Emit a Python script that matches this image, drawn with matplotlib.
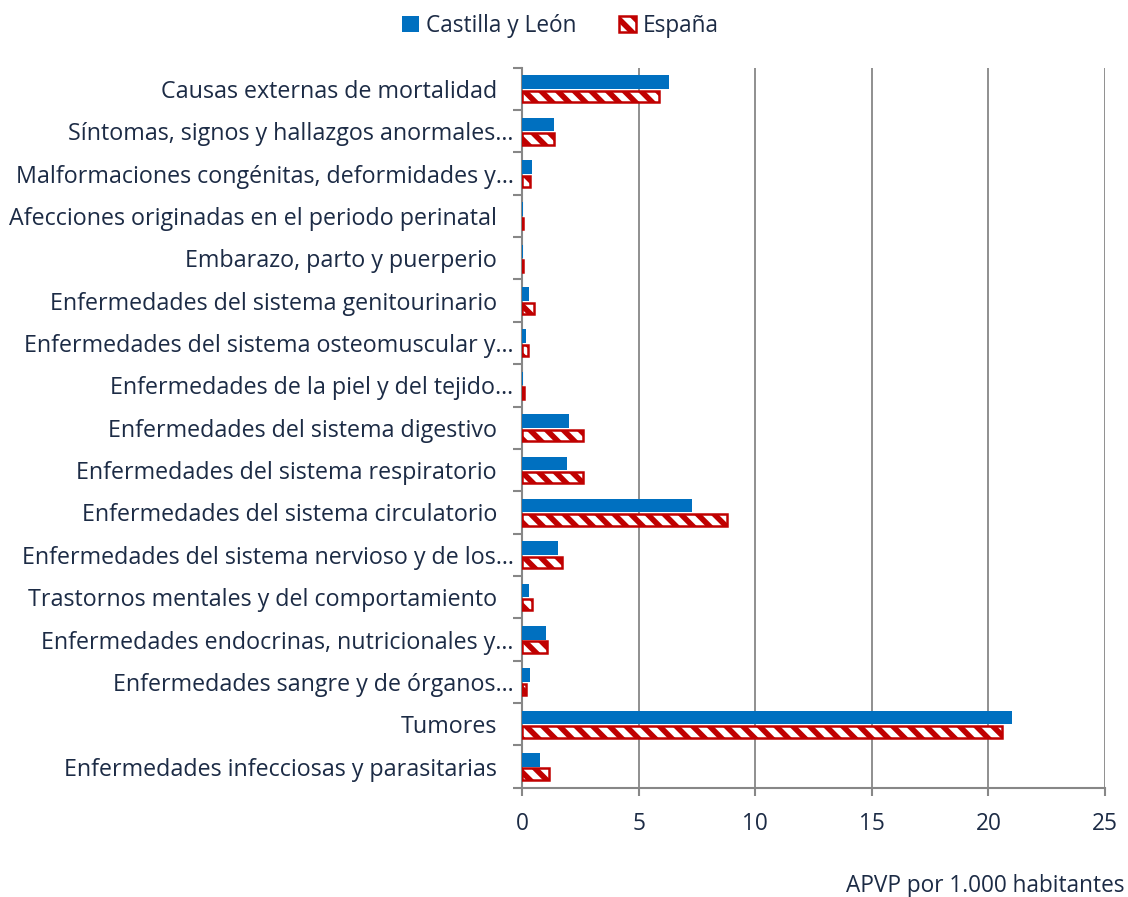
import numpy as np
import matplotlib
matplotlib.use("Agg")
import matplotlib.pyplot as plt
from matplotlib.patches import Patch
import matplotlib.transforms as mtransforms

# categorias de abajo hacia arriba
causas = [
    "Enfermedades infecciosas y parasitarias",
    "Tumores",
    "Enfermedades sangre y de órganos…",
    "Enfermedades endocrinas, nutricionales y…",
    "Trastornos mentales y del comportamiento",
    "Enfermedades del sistema nervioso y de los…",
    "Enfermedades del sistema circulatorio",
    "Enfermedades del sistema respiratorio",
    "Enfermedades del sistema digestivo",
    "Enfermedades de la piel y del tejido…",
    "Enfermedades del sistema osteomuscular y…",
    "Enfermedades del sistema genitourinario",
    "Embarazo, parto y puerperio",
    "Afecciones originadas en el periodo perinatal",
    "Malformaciones congénitas, deformidades y…",
    "Síntomas, signos y hallazgos anormales…",
    "Causas externas de mortalidad",
]
castilla_leon = [0.77, 21.03, 0.36, 1.04, 0.29, 1.53, 7.28, 1.93, 2.03,
                 0.06, 0.17, 0.29, 0.03, 0.05, 0.43, 1.37, 6.30]
espana = [1.16, 20.60, 0.19, 1.05, 0.41, 1.70, 8.78, 2.62, 2.62,
          0.07, 0.24, 0.52, 0.03, 0.06, 0.36, 1.39, 5.88]
xticks = [0, 5, 10, 15, 20, 25]

AZUL = "#0070C0"
ROJO = "#C00000"
GRIS = "#878787"
TEXTO = "#1c2b45"
FS = 16.3

plt.rcParams["font.family"] = ["Open Sans", "DejaVu Sans"]
plt.rcParams["hatch.linewidth"] = 4
plt.rcParams["hatch.color"] = ROJO

fig = plt.figure(figsize=(11.28, 8.97), dpi=100)
ax = fig.add_axes([0.4628, 0.1218, 0.5168, 0.8027])

y = np.arange(len(causas))
h = 0.32
ax.barh(y + h / 2, castilla_leon, height=h, color=AZUL, zorder=3)
ax.barh(y - h / 2 - 0.02, espana, height=h - 0.05, facecolor="white",
        edgecolor=ROJO, hatch="\\\\", linewidth=1.8, zorder=3)

ax.set_xlim(0, 25)
ax.set_ylim(-0.5, len(causas) - 0.5)
ax.set_xticks(xticks)
ax.set_xticklabels([str(t) for t in xticks])
ax.set_yticks(y)
ax.set_yticklabels(causas)
ax.set_yticks(np.arange(-0.5, len(causas)), minor=True)

ax.grid(axis="x", color=GRIS, linewidth=1.3, zorder=0)
for s in ["top", "right"]:
    ax.spines[s].set_visible(False)
for s in ["left", "bottom"]:
    ax.spines[s].set_color(GRIS)
    ax.spines[s].set_linewidth(1.5)

ax.tick_params(axis="y", which="major", length=0, pad=18, labelsize=16.75, labelcolor=TEXTO)
ax.tick_params(axis="y", which="minor", length=6.5, width=1.5, color=GRIS)
ax.tick_params(axis="x", which="major", length=5.5, width=1.5, color=GRIS,
               pad=12, labelsize=FS, labelcolor=TEXTO)

# las etiquetas recortadas con "…" llegan mas cerca del eje
desplazar = mtransforms.ScaledTranslation(12 / 72, 0, fig.dpi_scale_trans)
for lab in ax.get_yticklabels():
    if lab.get_text().endswith("…"):
        lab.set_transform(lab.get_transform() + desplazar)

fig.text(0.9965, 0.0056, "APVP por 1.000 habitantes", ha="right", va="baseline",
         fontsize=FS, color=TEXTO)

handles = [Patch(facecolor=AZUL, label="Castilla y León"),
           Patch(facecolor="white", edgecolor=ROJO, hatch="\\\\", linewidth=1.8,
                 label="España")]
fig.legend(handles=handles, loc="center", bbox_to_anchor=(0.497, 0.971), ncol=2,
           frameon=False, fontsize=FS, handlelength=0.75, handleheight=0.75,
           handletextpad=0.3, columnspacing=1.9, labelcolor=TEXTO)

fig.savefig("out.png", dpi=100)
